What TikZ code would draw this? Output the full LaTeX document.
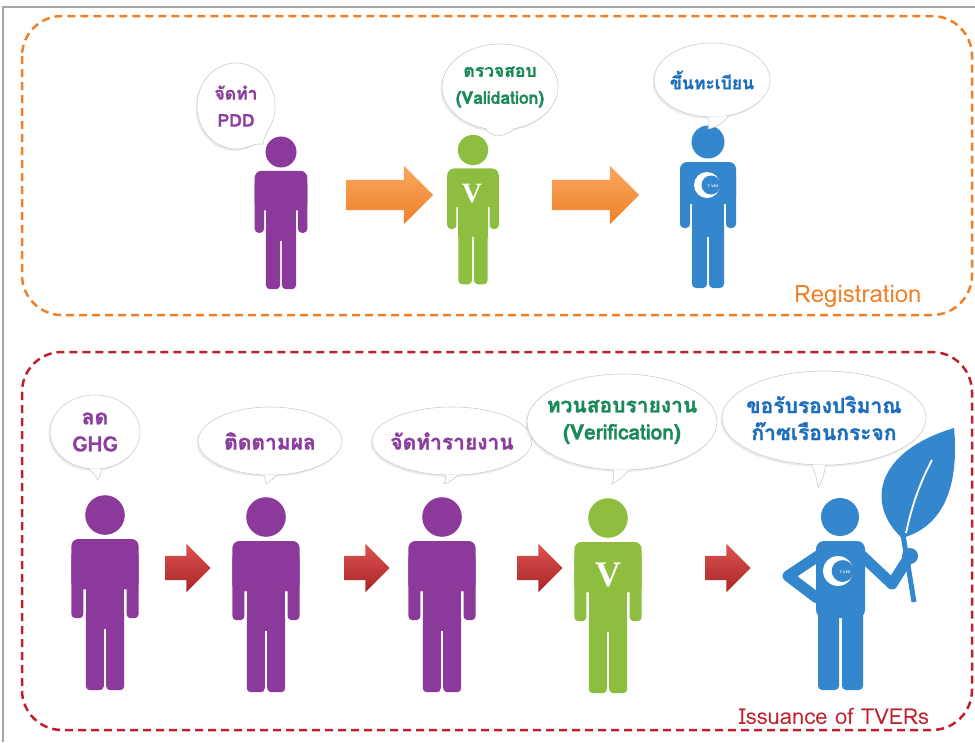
\documentclass[tikz,border=0pt]{standalone}
\usepackage{fontspec}
\newfontfamily\thaifont[Script=Thai, BoldFeatures={FakeBold=1.3}]{Loma}
\newfontfamily\serifv{Liberation Serif}
\usetikzlibrary{shapes.geometric,shapes.arrows,shadows,positioning}

\definecolor{figpurple}{RGB}{139,58,155}
\definecolor{txtpurple}{RGB}{140,62,158}
\definecolor{figgreen}{RGB}{141,190,64}
\definecolor{txtgreen}{RGB}{28,138,88}
\definecolor{figblue}{RGB}{52,135,205}
\definecolor{txtblue}{RGB}{30,110,190}
\definecolor{regorange}{RGB}{240,128,40}
\definecolor{orlight}{RGB}{248,168,95}
\definecolor{issred}{RGB}{192,32,45}
\definecolor{arrred}{RGB}{170,35,40}
\definecolor{arrlight}{RGB}{220,85,80}

% stick figure, head centre at the origin, y runs downwards
\tikzset{
  pics/person/.style={code={
    \fill (0,0) circle[radius=16.5];
    \fill[rounded corners=7pt] (-28,20) rectangle (28,62);
    \fill[rounded corners=4pt] (-28,30) rectangle (-18,86);
    \fill[rounded corners=4pt] (18,30) rectangle (28,86);
    \fill (-16,30) rectangle (16,95);
    \fill[rounded corners=4pt] (-16,80) rectangle (-1,146);
    \fill[rounded corners=4pt] (1,80) rectangle (16,146);
  }},
  pics/tverlogo/.style={code={
    \fill[white] (0,0) circle[radius=13];
    \fill[figblue] (4,0) circle[radius=9.5];
    \node[white, font=\sffamily\fontsize{3.5}{4}\selectfont\bfseries] (logotxt) at (6,1) {T-VER};
  }},
}

\begin{document}
\begin{tikzpicture}[x=1pt, y=-1pt,
  bubble/.style={ellipse, fill=white, draw=gray!40, line width=0.6pt, inner sep=-20pt,
    drop shadow={shadow xshift=-1.5pt, shadow yshift=-2pt, opacity=0.15},
    align=center, font=\thaifont\bfseries},
  bubtail/.style={fill=white, draw=gray!40, line width=0.6pt},
  small/.style={font=\thaifont\bfseries\fontsize{17.5}{27}\selectfont},
  large/.style={font=\thaifont\bfseries\fontsize{21}{27}\selectfont},
  orarr/.style={single arrow, single arrow head extend=14pt, inner sep=0pt, inner ysep=15pt,
    minimum height=87pt, top color=orlight, bottom color=regorange, draw=none},
  rdarr/.style={single arrow, single arrow head extend=12pt, inner sep=0pt, inner ysep=12pt,
    minimum height=45pt, top color=arrlight, bottom color=arrred, draw=none},
  grp/.style={line width=2.5pt, dash pattern=on 8pt off 5pt, rounded corners=40pt},
]
\useasboundingbox (0,0) rectangle (975,742);
\draw[gray!70, line width=1.2pt] (975,7) -- (3,7) -- (3,742);

%==== Registration ====
\draw[grp, regorange] (22,16) rectangle (972,315);
\node[text=regorange, font=\thaifont\fontsize{24}{26}\selectfont] (reglbl) at (858,296) {Registration};

\pic[fill=figpurple, scale=0.94] at (281,152) {person};
\pic[fill=figgreen, scale=0.92] at (473,150) {person};
\pic[fill=figblue] at (708,142) {person};
\node[white, font=\serifv\bfseries\fontsize{28}{28}\selectfont] (v1) at (472,194) {V};
\pic at (707,185) {tverlogo};

\node[orarr] (ar1) at (382,195) {};
\node[orarr] (ar2) at (588,195) {};

\node[bubble, small, text=txtpurple, minimum width=78, minimum height=86] (pdd) at (236,106) {จัดทำ\\PDD};
\coordinate (pdd-tip) at (263,144);
\path[bubtail] (pdd.-75) to[bend left=15] (pdd-tip) to[bend left=10] (pdd.-40);

\node[bubble, small, text=txtgreen, minimum width=116, minimum height=86] (valid) at (500,87) {ตรวจสอบ\\(Validation)};
\coordinate (valid-tip) at (497,136);
\path[bubtail] (valid.-110) to[bend right=15] (valid-tip) to[bend right=15] (valid.-70);

\node[bubble, small, text=txtblue, minimum width=116, minimum height=74] (regis) at (712,80) {ขึ้นทะเบียน};
\coordinate (regis-tip) at (708,129);
\path[bubtail] (regis.-95) to[bend left=10] (regis-tip) to[bend right=20] (regis.-65);

%==== Issuance of TVERs ====
\draw[grp, issred] (22,352) rectangle (972,730);
\node[text=issred, font=\thaifont\fontsize{22}{24}\selectfont] (isslbl) at (834,716) {Issuance of TVERs};

\pic[fill=figpurple, scale=1.2] at (105,515) {person};
\pic[fill=figpurple, scale=1.2] at (266,517) {person};
\pic[fill=figpurple, scale=1.2] at (442,517) {person};
\pic[fill=figgreen, scale=1.2] at (608,518) {person};
\node[white, font=\serifv\bfseries\fontsize{36}{36}\selectfont] (v2) at (608,575) {V};

\node[rdarr] (ar3) at (182,568) {};
\node[rdarr] (ar4) at (361,568) {};
\node[rdarr] (ar5) at (534,568) {};
\node[rdarr] (ar6) at (722,568) {};

% figure holding the leaf
\fill[figblue] (902,538) .. controls (866,505) and (874,452) .. (954,428)
  .. controls (959,482) and (946,526) .. (902,538);
\draw[white, line width=1.8pt] (932,460) .. controls (916,490) and (910,515) .. (906,533);
\draw[figblue, line width=5pt] (903,535) -- (914,602);
\fill[figblue] (840,517) circle[radius=19];
\fill[figblue, rounded corners=8pt] (816,541) rectangle (865,618);
\draw[figblue, line width=11pt, line join=round, line cap=round] (824,552) -- (788,576) -- (817,598);
\draw[figblue, line width=11pt, line join=round, line cap=round] (858,552) -- (892,584) -- (909,557);
\fill[figblue] (910,556) circle[radius=8];
\fill[figblue, rounded corners=4pt] (818,605) rectangle (839,690);
\fill[figblue, rounded corners=4pt] (842,605) rectangle (863,690);
\pic[scale=1.15] at (838,571) {tverlogo};

\node[bubble, large, text=txtpurple, minimum width=90, minimum height=74] (ghg) at (95,432) {ลด\\GHG};
\coordinate (ghg-tip) at (98,480);
\path[bubtail] (ghg.-100) to[bend left=10] (ghg-tip) to[bend right=10] (ghg.-80);

\node[bubble, large, text=txtpurple, minimum width=144, minimum height=68] (monitor) at (270,441) {ติดตามผล};
\coordinate (monitor-tip) at (266,484);
\path[bubtail] (monitor.-100) to[bend left=10] (monitor-tip) to[bend right=10] (monitor.-80);

\node[bubble, large, text=txtpurple, minimum width=160, minimum height=68] (report) at (452,441) {จัดทำรายงาน};
\coordinate (report-tip) at (444,484);
\path[bubtail] (report.-100) to[bend left=10] (report-tip) to[bend right=10] (report.-80);

\node[bubble, large, text=txtgreen, minimum width=190, minimum height=96] (verif) at (622,422) {ทวนสอบรายงาน\\(Verification)};
\coordinate (verif-tip) at (612,484);
\path[bubtail] (verif.-100) to[bend left=10] (verif-tip) to[bend right=10] (verif.-82);

\node[bubble, large, text=txtblue, minimum width=204, minimum height=94] (certify) at (824,418) {ขอรับรองปริมาณ\\ก๊าซเรือนกระจก};
\coordinate (certify-tip) at (818,488);
\path[bubtail] (certify.-105) to[bend left=10] (certify-tip) to[bend right=10] (certify.-88);

\end{tikzpicture}
\end{document}
